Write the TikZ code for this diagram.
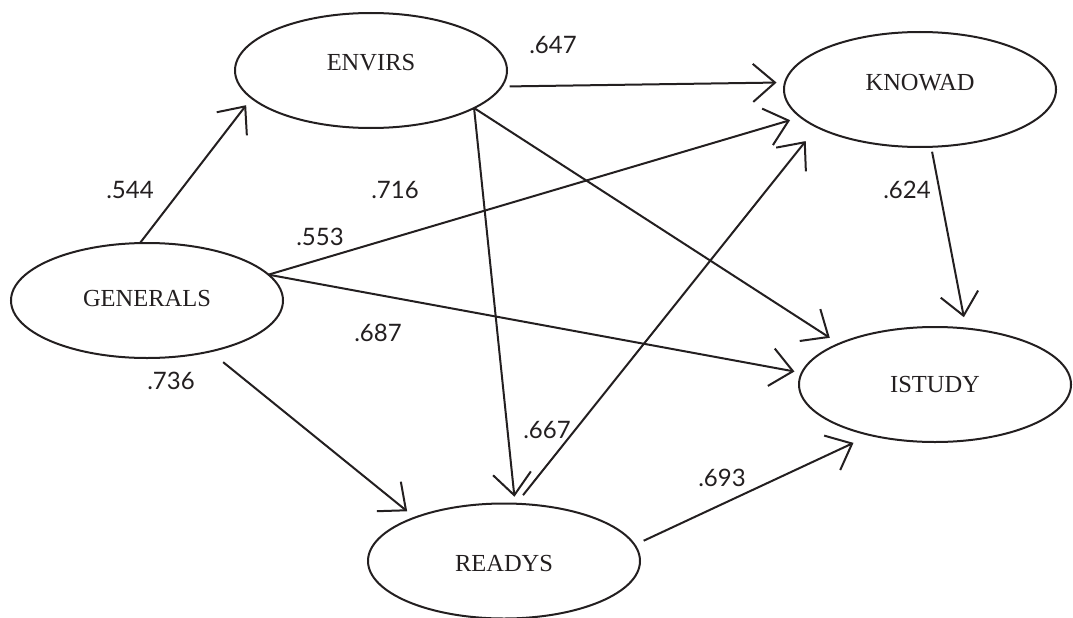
\documentclass[tikz,border=0pt]{standalone}
\usepackage{fontspec}
\setmainfont{Liberation Serif}
\newfontfamily\labfont{Lato}
\usetikzlibrary{arrows.meta,shapes.geometric}
\definecolor{ink}{RGB}{35,31,32}
\begin{document}
\begin{tikzpicture}[x=1pt,y=-1pt,
  var/.style={ellipse,draw=ink,text=ink,line width=2pt,minimum width=272pt,minimum height=115pt,inner sep=0pt,outer sep=0pt,font=\fontsize{24.5}{28}\selectfont},
  arr/.style={draw=ink,line width=2pt,-{Straight Barb[length=22pt,width=38pt]}},
  coef/.style={text=ink,font=\labfont\fontsize{24}{28}\selectfont,inner sep=0pt}]
\useasboundingbox (0,0) rectangle (1073,618);
% variables
\node[var] (gen) at (147,300.5) {\raisebox{2pt}[\height][\depth]{GENERALS}};
\node[var] (env) at (371,70.5) {\raisebox{8pt}[\height][\depth]{ENVIRS}};
\node[var] (kno) at (920,89.5) {\raisebox{6.5pt}[\height][\depth]{KNOWAD}};
\node[var] (ist) at (935,384.5) {ISTUDY};
\node[var] (rea) at (504,561) {\raisebox{-3pt}[\height][\depth]{READYS}};
% paths
\draw[arr,shorten >=9pt] (gen.97) -- (env.193.2);
\draw[arr,shorten <=8pt,shorten >=8.5pt] (env.353.5) -- (kno.177.9);
\draw[arr,shorten >=11pt] (gen.12) -- (kno.193.9);
\draw[arr,shorten >=7.5pt] (gen.12) -- (ist.175.5);
\draw[arr,shorten >=11pt] (env.340) -- (ist.157.5);
\draw[arr,shorten >=7pt] (env.340) -- (rea.79.2);
\draw[arr,shorten <=11pt,shorten >=18pt] (rea.78.7) -- (kno.200.7);
\draw[arr,shorten <=17pt,shorten >=10pt] (gen.321.75) -- (rea.154.5);
\draw[arr,shorten <=10pt,shorten >=18.5pt] (rea.7.4) -- (ist.218);
\draw[arr,shorten <=5pt,shorten >=11.5pt] (kno.281) -- (ist.61.5);
% coefficients
\node[coef] (c1) at (130,190) {.544};
\node[coef] (c2) at (553,45) {.647};
\node[coef] (c3) at (395,190) {.716};
\node[coef] (c4) at (320,237) {.553};
\node[coef] (c5) at (378,333) {.687};
\node[coef] (c6) at (171,381) {.736};
\node[coef] (c7) at (547,430) {.667};
\node[coef] (c8) at (722,478) {.693};
\node[coef] (c9) at (907,190) {.624};
\end{tikzpicture}
\end{document}
